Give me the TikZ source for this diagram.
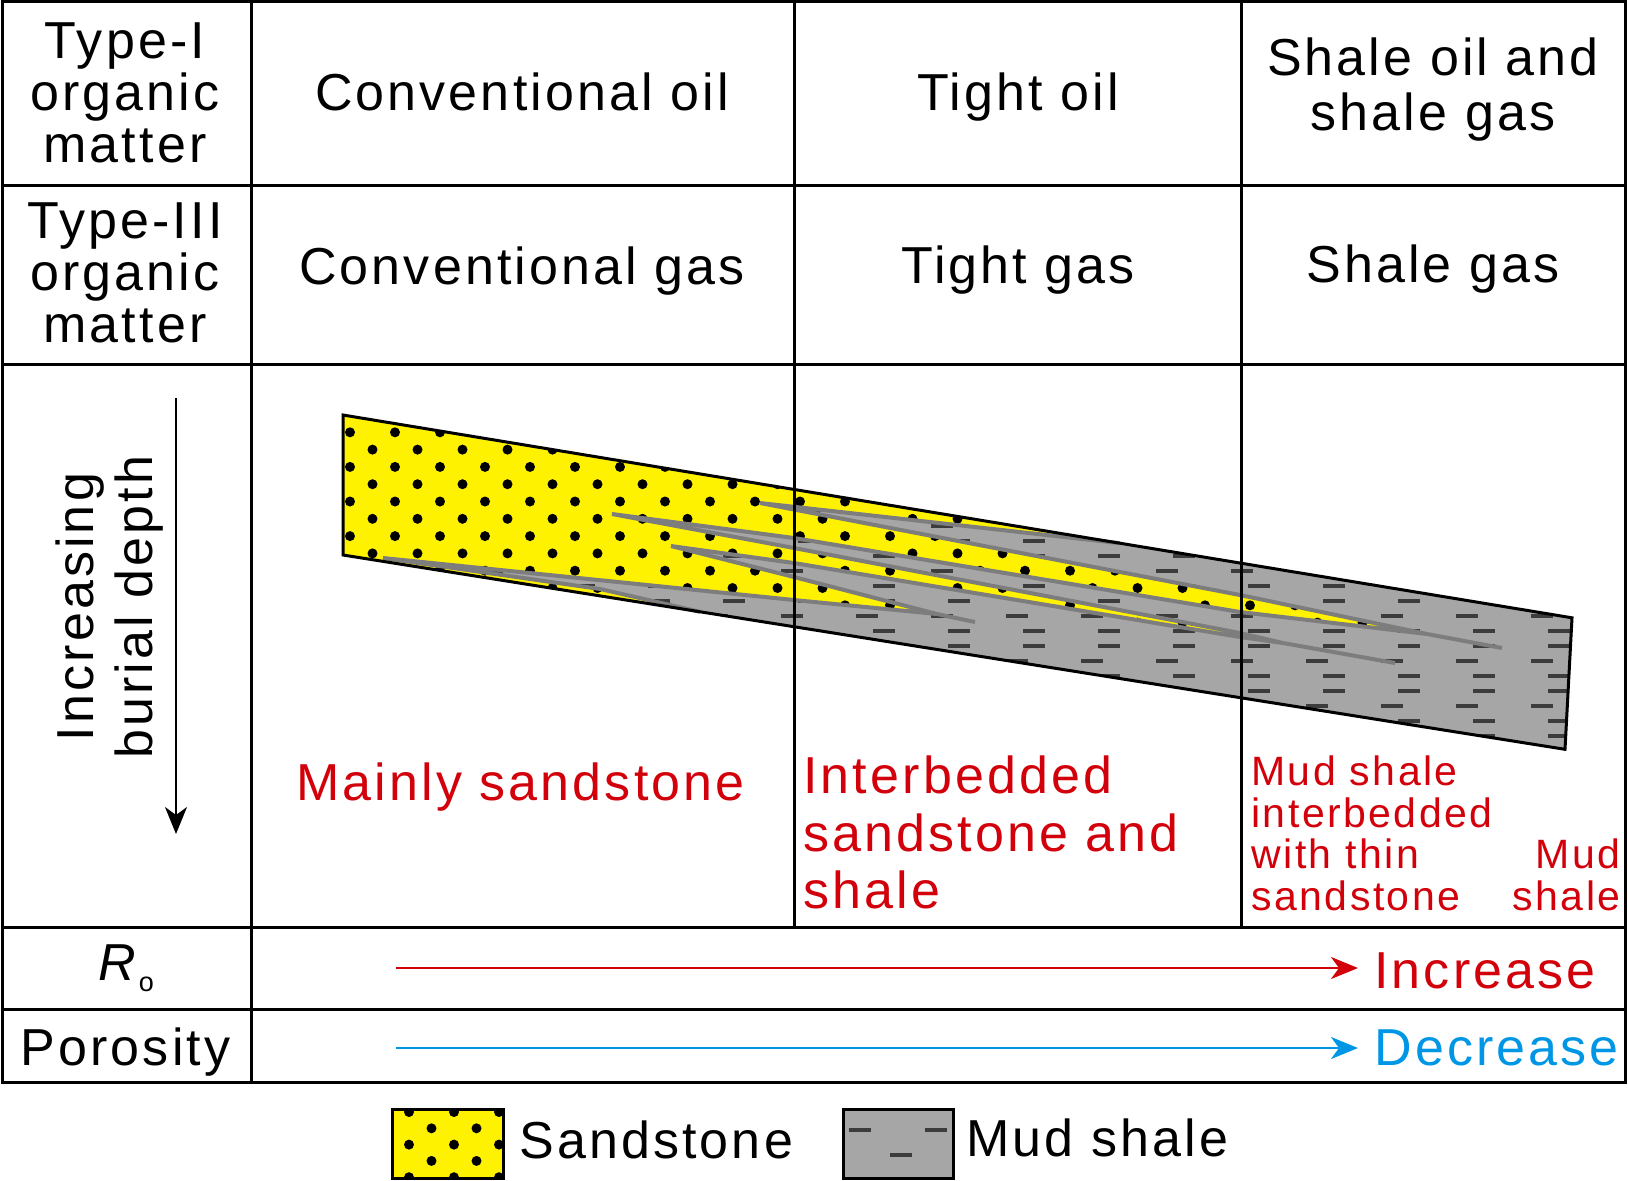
\documentclass[tikz,border=0pt]{standalone}
\usepackage{fontspec}
\setmainfont{Liberation Sans}[LetterSpace=6]
\usetikzlibrary{arrows.meta}
\definecolor{sandyellow}{RGB}{255,242,0}
\definecolor{mudgray}{RGB}{166,166,166}
\definecolor{tonguegray}{RGB}{125,125,125}
\definecolor{dashgray}{RGB}{60,60,60}
\definecolor{labelred}{RGB}{210,0,10}
\definecolor{labelblue}{RGB}{0,150,230}
\newcommand{\bodyoutline}{(343,415) -- (1572,617.8) -- (1565,749.3) -- (343,555) -- cycle}
\newcommand{\sandedge}{-- (760,503) -- (1240,595) -- (1427,634) -- (1240,612) -- (794,538) -- (612,514) -- (794,548) -- (1240,633) -- (1283,643) -- (1240,637) -- (794,563) -- (671,546) -- (794,577) -- (937,614) -- (794,600) -- (383,558) -- (600,589) -- (700,611.8)}
\begin{document}
\begin{tikzpicture}[x=0.5pt,y=-0.5pt,>={Stealth[length=13.5pt,width=11pt,inset=4pt]},
  cellfont/.style={font=\fontsize{26}{26}\selectfont,inner sep=0pt},
  redfont/.style={cellfont,text=labelred},
  smallred/.style={font=\fontsize{20.5}{20.8}\selectfont,inner sep=0pt,text=labelred},
  tableline/.style={line width=1.5pt}]
\useasboundingbox (0,0) rectangle (1628,1180);
% strata
\fill[mudgray] \bodyoutline;
\begin{scope}
\clip \bodyoutline;
\foreach \j in {0,...,22}
  \foreach \i in {0,...,17}
    \draw[dashgray,line width=1.7pt] ({329+75*\i+19-17*equal(mod(\j,3),1)},{421+15*\j}) -- ++(22,0);
\end{scope}
\fill[sandyellow] (343,415) -- (1120,543.2) \sandedge -- (343,555) -- cycle;
\begin{scope}
\clip (343,415) -- (1120,543.2) \sandedge -- (343,555) -- cycle;
\foreach \j in {0,...,18}
  \foreach \i in {0,...,24}
    \fill ({350+45*\i+22.5*mod(\j,2)},{432.3+17.3*\j}) circle (2.5pt);
\end{scope}
\draw[tonguegray,line width=2pt] (1120,543.2) \sandedge;
\draw[tonguegray,line width=2pt] (1427,634) -- (1502,648) (1283,643) -- (1395,663) (937,614) -- (975,622);
\draw[line width=1.5pt] \bodyoutline;
% table
\draw[tableline] (2,1.5) rectangle (1625.5,1082);
\draw[tableline] (2,185) -- (1625.5,185);
\draw[tableline] (2,364) -- (1625.5,364);
\draw[tableline] (2,927) -- (1625.5,927);
\draw[tableline] (2,1009) -- (1625.5,1009);
\draw[tableline] (251,1.5) -- (251,1082);
\draw[tableline] (794,1.5) -- (794,927);
\draw[tableline] (1241,1.5) -- (1241,927);
% headings
\node[cellfont,anchor=north,align=center] (typeone) at (125,22.8) {Type-I\\organic\\matter};
\node[cellfont,anchor=north,align=center] (typethree) at (125,202.8) {Type-III\\organic\\matter};
\node[cellfont,anchor=base] (convoil) at (522,110) {Conventional oil};
\node[cellfont,anchor=base] (convgas) at (522,284) {Conventional gas};
\node[cellfont,anchor=base] (tightoil) at (1018,110) {Tight oil};
\node[cellfont,anchor=base] (tightgas) at (1018,283) {Tight gas};
\node[cellfont,anchor=north,align=center,font=\fontsize{26}{27.5}\selectfont] (shaleoil) at (1433,37.5) {Shale oil and\\shale gas};
\node[cellfont,anchor=base] (shalegas) at (1433,282) {Shale gas};
\node[cellfont,rotate=90,align=center,font=\fontsize{26}{29.5}\selectfont] (depth) at (109.5,607) {Increasing\\burial depth};
\coordinate (dep-a) at (176,398);
\coordinate (dep-b) at (176,834);
\draw[->,line width=1pt] (dep-a) -- (dep-b);
% lithology labels
\node[redfont,anchor=base] (mainsand) at (520.5,800) {Mainly sandstone};
\node[redfont,anchor=north west,align=left,font=\fontsize{26}{28.75}\selectfont] (interbed) at (803,755.8) {Interbedded\\sandstone and\\shale};
\node[smallred,anchor=north west,align=left] (mudthin) at (1251,755.6) {Mud shale\\interbedded\\with thin\\sandstone};
\node[smallred,anchor=north east,align=right] (mudonly) at (1621,838.6) {Mud\\shale};
% trends
\node[cellfont,anchor=base] (ro) at (126,980) {\textit{R}\raisebox{-5.5pt}{\fontsize{13.5}{13.5}\selectfont o}};
\node[cellfont,anchor=base] (poro) at (125.5,1065) {Porosity};
\node[redfont,anchor=base west] (increase) at (1374,988) {Increase};
\node[cellfont,anchor=base west,text=labelblue] (decrease) at (1374,1065) {Decrease};
\coordinate (ro-a) at (396,968);
\coordinate (ro-b) at (1358,968);
\coordinate (por-a) at (396,1048);
\coordinate (por-b) at (1358,1048);
\draw[->,labelred,line width=1.15pt] (ro-a) -- (ro-b);
\draw[->,labelblue,line width=1.15pt] (por-a) -- (por-b);
% legend
\fill[sandyellow] (392,1109) rectangle (503,1178);
\begin{scope}
\clip (392,1109) rectangle (503,1178);
\foreach \j in {0,...,4}
  \foreach \i in {0,...,2}
    \fill ({409+45*\i+22.5*mod(\j,2)},{1112+16.3*\j}) circle (2.5pt);
\end{scope}
\draw[line width=1.5pt] (392,1109) rectangle (503,1178);
\fill[mudgray] (843,1109) rectangle (953,1178);
\draw[dashgray,line width=1.7pt] (849,1130) -- (871,1130) (925,1130) -- (947,1130) (890,1155) -- (912,1155);
\draw[line width=1.5pt] (843,1109) rectangle (953,1178);
\node[cellfont,anchor=base west] (sandlbl) at (519,1158) {Sandstone};
\node[cellfont,anchor=base west] (mudlbl) at (966,1156) {Mud shale};
\end{tikzpicture}
\end{document}
